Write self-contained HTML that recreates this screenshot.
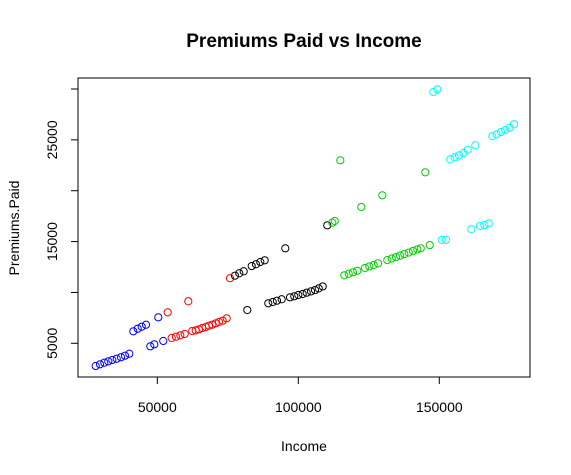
<!DOCTYPE html>
<html><head><meta charset="utf-8"><style>
body{margin:0;background:#fff}
svg{display:block;font-family:"Liberation Sans",Arial,sans-serif}
</style></head><body>
<svg id="chart" width="571" height="475" viewBox="0 0 571 475">
<rect x="0" y="0" width="571" height="475" fill="#fff"/>
<text x="304" y="47" text-anchor="middle" font-size="19" font-weight="bold">Premiums Paid vs Income</text>
<rect x="78" y="78" width="452" height="299" fill="none" stroke="#000" stroke-width="1"/>
<text x="304" y="451" text-anchor="middle" font-size="14">Income</text>
<text transform="translate(19,228) rotate(-90)" text-anchor="middle" font-size="14">Premiums.Paid</text>
<g id="axes"></g>
<g id="points"></g>
</svg>
<script>
const xTicks=[50000,100000,150000];
const xTickLabels=["50000","100000","150000"];
const yTicks=[5000,10000,15000,20000,25000,30000];
const yTickLabels=["5000","","15000","","25000",""];
const seriesColors=["#0000FF","#FF0000","#000000","#00CD00","#00FFFF"];
const blueIncome=[28153,29685,31207,32626,34046,35608,37130,38550,40072,41491,43054,44475,45996,47517,48936,52122,50357];
const bluePremium=[2769,2935,3092,3226,3359,3483,3626,3781,3976,6179,6436,6631,6826,4705,4900,5229,7556];
const redIncome=[53685,60988,55105,56627,58159,59711,62407,63612,64787,65951,67166,68330,69505,70710,71875,73192,74612,75776];
const redPremium=[8043,9132,5521,5650,5787,5915,6209,6278,6376,6504,6602,6730,6828,6966,7093,7222,7457,11392];
const blackIncome=[77554,79076,80638,83477,84999,86520,88083,95384,81915,89360,90923,92445,94110,97061,98583,100003,101555,102975,104507,105927,107234,108654,110276];
const blackPremium=[11649,11885,12080,12594,12769,12995,13159,14340,8270,8932,9060,9189,9327,9522,9620,9748,9846,9975,10108,10236,10396,10591,16600];
const greenIncome=[112052,112910,114893,122338,129794,145032,116311,117874,119396,120928,123645,125177,126750,128272,131571,133134,134656,136075,137597,139160,140688,142220,143425,146602];
const greenPremium=[16857,17021,22989,18398,19548,21808,11685,11834,11978,12137,12399,12553,12697,12861,13180,13334,13477,13621,13775,13919,14083,14227,14340,14659];
const cyanIncome=[147862,149282,153898,155461,156983,158515,160068,162764,168790,170352,171874,173396,174959,176481,150855,152377,161344,164429,165961,167514];
const cyanPremium=[29707,29964,23092,23287,23482,23709,24027,24469,25352,25547,25773,25968,26194,26533,15152,15183,16210,16529,16632,16796];

const NS="http://www.w3.org/2000/svg";
function xScale(v){return 157.3+(v-50000)*141/50000;}
function yScale(v){return 343.3-(v-5000)*50.86/5000;}
const axes=document.getElementById('axes');
const pts=document.getElementById('points');
function mk(tag,attrs,parent){const e=document.createElementNS(NS,tag);for(const k in attrs)e.setAttribute(k,attrs[k]);parent.appendChild(e);return e;}
xTicks.forEach((t,i)=>{
  const x=xScale(t);
  const l=mk('line',{x1:x,x2:x,y1:377,y2:384,stroke:'#000'},axes);
  
  
  const tx=mk('text',{x:x,y:412,'text-anchor':'middle','font-size':'14'},axes);
  tx.textContent=xTickLabels[i];
  
  
});
yTicks.forEach((t,i)=>{
  const y=yScale(t);
  const l=mk('line',{x1:71,x2:78,y1:y,y2:y,stroke:'#000'},axes);
  
  
  if(yTickLabels[i]){
    const tx=mk('text',{transform:'translate(57,'+y+') rotate(-90)','text-anchor':'middle','font-size':'14'},axes);
    tx.textContent=yTickLabels[i];
    
    
  }
});
const groups=[[blueIncome,bluePremium],[redIncome,redPremium],[blackIncome,blackPremium],[greenIncome,greenPremium],[cyanIncome,cyanPremium]];
groups.forEach((g,gi)=>{
  g[0].forEach((v,i)=>{
    const c=mk('circle',{cx:xScale(v),cy:yScale(g[1][i]),r:3.6,fill:'none',stroke:seriesColors[gi],'stroke-width':'1'},pts);
    
    
  });
});
</script>
</body></html>
